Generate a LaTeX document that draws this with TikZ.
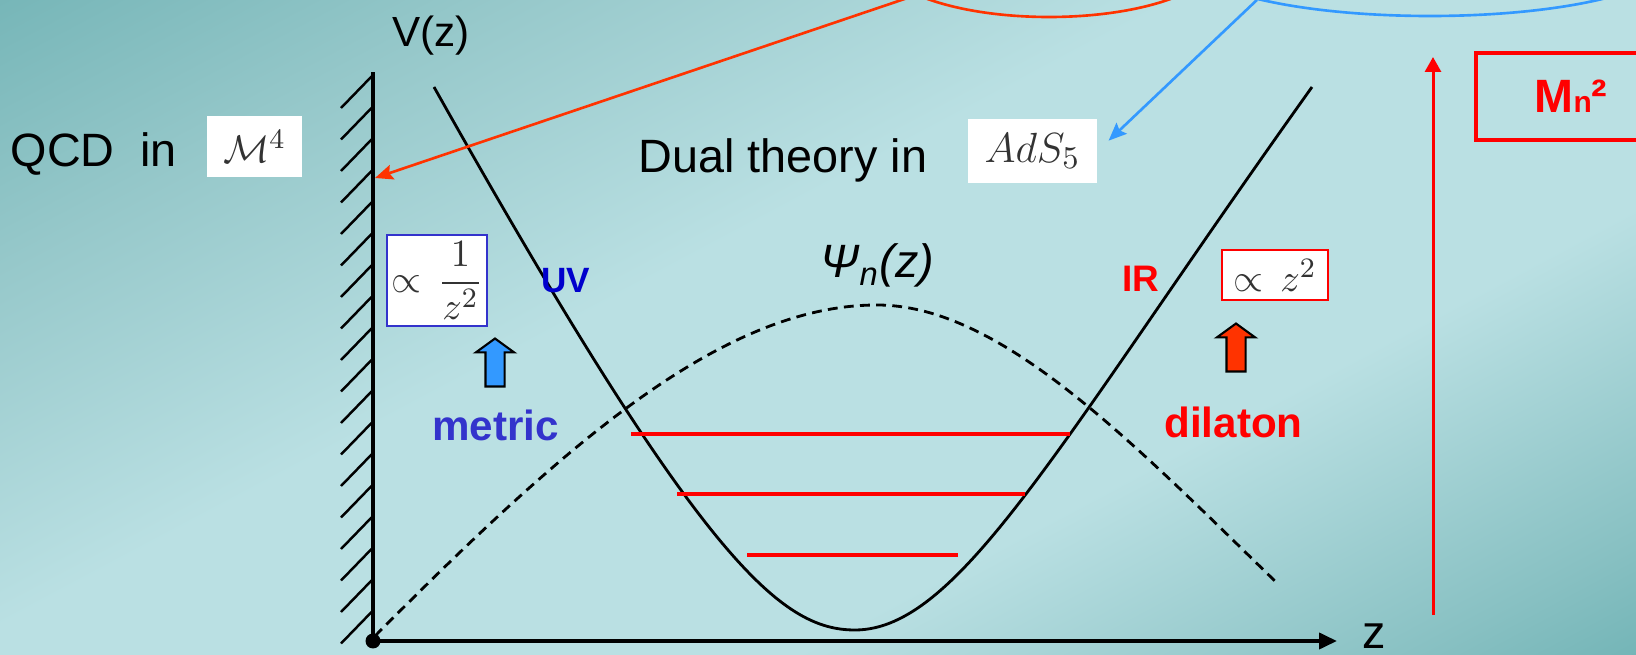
\documentclass[tikz,border=0pt]{standalone}
\usepackage[no-math]{fontspec}
\setmainfont{Liberation Sans}
\usepackage{amsmath,amssymb}
\usepackage{xcolor}
\usetikzlibrary{shapes.geometric, shapes.arrows, arrows.meta}
\definecolor{bgdark}{RGB}{108,176,178}
\definecolor{bgmida}{RGB}{150,200,202}
\definecolor{bglight}{RGB}{186,224,227}
\definecolor{bgmidb}{RGB}{135,192,194}
\definecolor{bgdarkb}{RGB}{100,172,174}
\definecolor{arrred}{RGB}{255,51,0}
\definecolor{arrblue}{RGB}{51,153,255}
\definecolor{metblue}{RGB}{51,51,204}
\definecolor{uvblue}{RGB}{0,0,204}
\pgfdeclareverticalshading{bgshade}{100bp}{color(0bp)=(bgdarkb); color(12bp)=(bgdarkb); color(21bp)=(bgmidb); color(36bp)=(bglight); color(56bp)=(bglight); color(72bp)=(bgmida); color(88bp)=(bgdark); color(100bp)=(bgdark)}

\begin{document}
\begin{tikzpicture}[x=1cm,y=1cm]
\tikzset{
  lbl/.style={inner sep=0pt,font=\fontsize{13.3}{16}\selectfont},
  eqw/.style={rectangle,fill=white,inner sep=0pt,text=black!80},
  blk/.style={single arrow,draw=black,line width=0.6pt,rotate=90,minimum height=0.48cm,minimum width=0.36cm,inner xsep=0pt,inner ysep=0.085cm,single arrow head extend=0.095cm,single arrow tip angle=108},
  ar/.style={-{Stealth[length=1.8mm,width=1.5mm,inset=0.3mm]},line width=0.75pt},
  lvl/.style={draw=red,line width=1.1pt},
  crv/.style={line width=0.8pt}
}
\useasboundingbox (0,0) rectangle (16.36,6.55);
\shade[shading=bgshade,shading angle=28] (0,0) rectangle (16.36,6.55);
% wall and axis
\coordinate (o) at (3.73,0.14);
\coordinate (wtop) at (3.73,5.83);
\coordinate (wallhit) at (3.75,4.77);
\coordinate (zend) at (13.37,0.14);
\foreach \i in {0,...,17}
  \draw[line width=0.7pt] (3.73,{5.80-0.315*\i}) -- ++(-0.32,-0.33);
\draw[line width=1.3pt] (o) -- (wtop);
\draw[line width=1.1pt,-{Triangle[length=1.8mm,width=1.6mm]}] (o) -- (zend);
\fill (o) circle (0.075);
\node[font=\fontsize{13.3}{16}\selectfont,anchor=base,inner sep=0pt] (zlbl) at (13.74,0.07) {z};
\node[font=\fontsize{12}{14}\selectfont,anchor=base,inner sep=0pt] (vz) at (4.31,6.08) {V(z)};
% potential and wave function
\draw[crv] (4.34,5.68) .. controls (7.00,0.95) and (7.80,0.25) .. (8.55,0.25)
  .. controls (9.60,0.25) and (10.60,2.15) .. (13.12,5.68);
\draw[crv,dash pattern=on 2.8pt off 1.8pt] (3.75,0.19) .. controls (5.60,2.05) and (7.20,3.50) .. (8.77,3.50)
  .. controls (10.00,3.50) and (11.30,2.15) .. (12.79,0.70);
\draw[lvl] (6.31,2.21) -- (10.70,2.21);
\draw[lvl] (6.77,1.61) -- (10.25,1.61);
\draw[lvl] (7.47,1.00) -- (9.58,1.00);
\node[lbl,anchor=base west] (psi) at (8.20,3.77) {\textit{Ψ\textsubscript{n}(z)}};
% labels
\node[lbl,anchor=base west] (qcd) at (0.10,4.88) {QCD~ in};
\node[eqw,minimum width=0.95cm,minimum height=0.61cm,font=\fontsize{11}{13}\selectfont] (mink) at (2.545,5.085) {$\mathcal{M}^4$};
\node[lbl,anchor=base west] (dual) at (6.38,4.82) {Dual theory in};
\node[eqw,minimum width=1.29cm,minimum height=0.64cm,font=\fontsize{13}{15}\selectfont] (ads) at (10.325,5.04) {$AdS_5$};
\node[eqw,draw=metblue,line width=0.5pt,minimum width=1.0cm,minimum height=0.91cm,font=\fontsize{11}{13}\selectfont] (uvfac) at (4.37,3.745) {$\displaystyle\propto\,\frac{1}{z^2}$};
\node[eqw,draw=red,line width=0.6pt,minimum width=1.06cm,minimum height=0.50cm,font=\fontsize{11}{13}\selectfont] (irfac) at (12.75,3.80) {$\propto\,z^2$};
\node[font=\bfseries\fontsize{10}{12}\selectfont,text=uvblue,inner sep=0pt] (uv) at (5.66,3.74) {UV};
\node[font=\bfseries\fontsize{10.5}{12}\selectfont,text=red,inner sep=0pt] (ir) at (11.41,3.765) {IR};
\node[blk,fill=arrblue] (upmet) at (4.95,2.89) {};
\node[blk,fill=arrred] (updil) at (12.36,3.04) {};
\node[font=\bfseries\fontsize{12}{14}\selectfont,text=metblue,anchor=base,inner sep=0pt] (metric) at (4.955,2.15) {metric};
\node[font=\bfseries\fontsize{12}{14}\selectfont,text=red,anchor=base,inner sep=0pt] (dilaton) at (12.335,2.17) {dilaton};
% top ellipses and pointers
\node[ellipse,draw=arrred,line width=0.75pt,minimum width=3.4cm,minimum height=1.2cm,inner sep=0pt] (redell) at (10.49,6.98) {};
\node[ellipse,draw=arrblue,line width=0.75pt,minimum width=4.8cm,minimum height=1.12cm,inner sep=0pt] (blueell) at (14.30,6.95) {};
\draw[ar,draw=arrred,fill=arrred] (redell.196) -- (wallhit);
\draw[ar,draw=arrblue,fill=arrblue,shorten >=1.5mm] (blueell.193) -- (ads.east);
% mass scale
\coordinate (mlow) at (14.33,0.40);
\coordinate (mtop) at (14.33,5.98);
\draw[draw=red,line width=0.85pt,-{Triangle[length=1.5mm,width=1.6mm]}] (mlow) -- (mtop);
\node[draw=red,line width=1.4pt,minimum width=1.9cm,minimum height=0.87cm,text=red,font=\bfseries\fontsize{13.3}{16}\selectfont] (mn) at (15.71,5.585) {M{\fontsize{8.5}{10}\selectfont n}²};
\end{tikzpicture}
\end{document}
